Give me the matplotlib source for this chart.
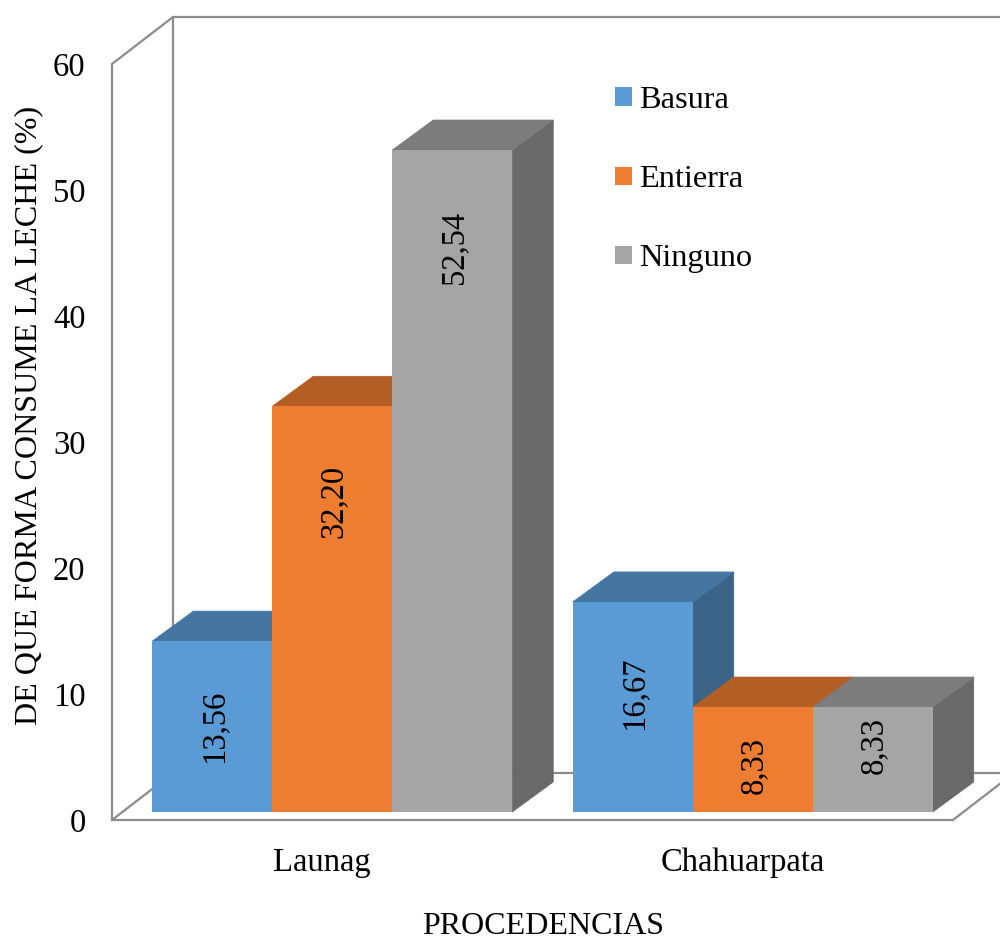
import matplotlib
matplotlib.use('Agg')
import matplotlib.pyplot as plt
from matplotlib.patches import Patch, Polygon

plt.rcParams['font.family'] = ['Liberation Serif', 'DejaVu Serif']

# Chart data
procedencias = ['Launag', 'Chahuarpata']
series_names = ['Basura', 'Entierra', 'Ninguno']
basura = [13.56, 16.67]
entierra = [32.20, 8.33]
ninguno = [52.54, 8.33]
y_ticks = [0, 10, 20, 30, 40, 50, 60]

# Where each value label sits along its bar, in axis units
label_heights = [[7.45, 10.05], [25.25, 4.35], [45.45, 5.95]]

front_colors = ['#5B9BD5', '#ED7D31', '#A5A5A5']
top_colors = ['#4575A1', '#B25E25', '#7C7C7C']
side_colors = ['#3B6488', '#97501F', '#696969']
wall_color = '#8C8C8C'

fig = plt.figure(figsize=(10, 9.4), dpi=100)
W, H = 1000, 940

# Front plane of the box: x 112-953 px, y 64-820 px from the top
ax = fig.add_axes([112 / W, 1 - 820 / H, 841 / W, 756 / H])
ax.set_xlim(0, 2)
ax.set_ylim(0, 60)
ax.patch.set_visible(False)
for s in ax.spines.values():
    s.set_visible(False)

px_x = 2 / 841
px_y = 60 / 756

# Depth of the box and of the bars, in axis units
wall_dx, wall_dy = 61 * px_x, 47 * px_y
bar_dx, bar_dy = 41 * px_x, 30 * px_y
base_dx, base_dy = 10 * px_x, 8 * px_y
bar_w = 120 * px_x


def wall_line(xs, ys):
    ax.plot(xs, ys, color=wall_color, lw=1.6, clip_on=False, zorder=1,
            solid_capstyle='projecting', solid_joinstyle='miter')


# Walls and floor
far_x = 2 + wall_dx
wall_line([0, 0, wall_dx, far_x], [0, 60, 60 + wall_dy, 60 + wall_dy])
wall_line([wall_dx, wall_dx], [wall_dy, 60 + wall_dy])
wall_line([wall_dx, far_x], [wall_dy, wall_dy])
wall_line([wall_dx, 0, 2, far_x], [wall_dy, 0, 0, wall_dy])


def draw_bar(x0, value, i, z):
    x1 = x0 + bar_w
    y0 = base_dy
    y1 = base_dy + value
    side = [(x1, y0), (x1 + bar_dx, y0 + bar_dy), (x1 + bar_dx, y1 + bar_dy), (x1, y1)]
    top = [(x0, y1), (x1, y1), (x1 + bar_dx, y1 + bar_dy), (x0 + bar_dx, y1 + bar_dy)]
    front = [(x0, y0), (x1, y0), (x1, y1), (x0, y1)]
    # Thin same-colour edges close the seams between the faces
    ax.add_patch(Polygon(side, fc=side_colors[i], ec=side_colors[i], lw=0.5, zorder=z, clip_on=False))
    ax.add_patch(Polygon(top, fc=top_colors[i], ec=top_colors[i], lw=0.5, zorder=z, clip_on=False))
    ax.add_patch(Polygon(front, fc=front_colors[i], ec='none', zorder=z, clip_on=False))


all_series = [basura, entierra, ninguno]
for c in range(len(procedencias)):
    group_left = c + 0.5 + base_dx - 1.5 * bar_w
    for i, values in enumerate(all_series):
        x0 = group_left + i * bar_w
        z = 2 + c * 3 + i
        draw_bar(x0, values[c], i, z)
        # Values use a decimal comma
        ax.text(x0 + bar_w / 2 + 1.5 * px_x, label_heights[i][c], f'{values[c]:.2f}'.replace('.', ','),
                rotation=90, ha='center', va='center', fontsize=23.5, color='black', zorder=20)

ax.set_yticks(y_ticks)
ax.set_xticks([0.5, 1.5])
ax.set_xticklabels(procedencias)
ax.tick_params(axis='both', length=0, labelsize=23.5)
ax.tick_params(axis='y', pad=19)
ax.tick_params(axis='x', pad=20)

ax.set_ylabel('DE QUE FORMA CONSUME LA LECHE (%)', fontsize=23.1)
ax.yaxis.set_label_coords(-69 / 841, (820 - 415) / 756)
ax.set_xlabel('PROCEDENCIAS', fontsize=23)
ax.xaxis.set_label_coords((543 - 112) / 841, -(927 - 820) / 756)
ax.xaxis.label.set_verticalalignment('center')

handles = [Patch(fc=c, ec='none') for c in front_colors]
ax.legend(handles, series_names, loc='upper left', bbox_to_anchor=(615 / W, 1 - 86 / H),
          bbox_transform=fig.transFigure, frameon=False, fontsize=23.3,
          handlelength=0.52, handleheight=0.49, handletextpad=0.22,
          labelspacing=1.55, borderpad=0, borderaxespad=0)

fig.savefig('out.png', dpi=100)
